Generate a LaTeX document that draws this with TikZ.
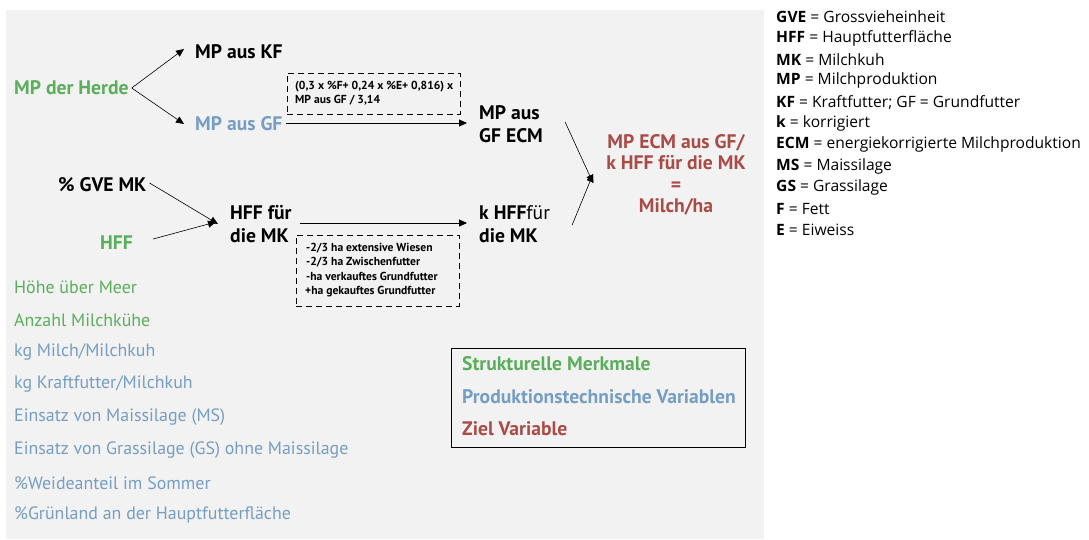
\documentclass[tikz,border=0pt]{standalone}
\usepackage{fontspec}
\setmainfont{PT Sans}
\newfontfamily\legfont{Open Sans}
\usetikzlibrary{arrows.meta}
\definecolor{bggray}{HTML}{F2F2F2}
\definecolor{cgreen}{HTML}{5BAE5C}
\definecolor{cblue}{HTML}{769DC4}
\definecolor{cred}{HTML}{A94B47}
\tikzset{
  x=1pt,y=-1pt,
  lbl/.style={inner sep=0pt,anchor=west,font=\fontsize{19.6}{22}\selectfont\bfseries},
  mlbl/.style={inner sep=0pt,anchor=west,align=left,font=\fontsize{19.6}{22.5}\selectfont\bfseries},
  lst/.style={inner sep=0pt,anchor=west,font=\fontsize{17.9}{20}\selectfont},
  leg/.style={inner sep=0pt,anchor=west,font=\legfont\fontsize{15.6}{17}\selectfont},
  arr/.style={-{Triangle[length=8pt,width=7pt]},line width=0.8pt},
  dbox/.style={draw,dashed,dash pattern=on 6pt off 4pt,line width=0.7pt,inner sep=0pt},
  small/.style={font=\fontsize{11.6}{14}\selectfont\bfseries,align=left,inner sep=0pt,anchor=west}
}
\begin{document}
\begin{tikzpicture}
\useasboundingbox (0,0) rectangle (1089,539);
\fill[bggray] (6,10) rectangle (764,539);

% left side
\node[lbl,text=cgreen] (herde) at (14,88) {MP der Herde};
\node[lbl] (kf) at (195,52) {MP aus KF};
\node[lbl,text=cblue] (gf) at (195,124) {MP aus GF};
\draw[arr,line width=0.6pt] ([xshift=3pt]herde.east) -- ([xshift=-11pt,yshift=3pt]kf.west);
\draw[arr,line width=0.6pt] ([xshift=3pt]herde.east) -- ([xshift=-11pt]gf.west);

% formula box
\node[dbox,minimum width=173pt,minimum height=41pt,anchor=north west] (fbox) at (287,73) {};
\node[small] (ftext) at (295,93.5) {(0,3 x \%F+ 0,24 x \%E+ 0,816) x\\MP aus GF / 3,14};

\node[mlbl] (ecm) at (479,124) {MP aus\\GF ECM};
\draw[arr] ([xshift=3pt,yshift=1pt]gf.east) -- ([xshift=-12pt,yshift=1pt]ecm.west);

% lower part
\node[lbl] (gve) at (58,185) {\% GVE MK};
\node[lbl,text=cgreen] (hff) at (100,243) {HFF};
\node[mlbl] (hffmk) at (230,224) {HFF für\\die MK};
\draw[arr,line width=0.6pt] ([xshift=3pt,yshift=2pt]gve.east) -- ([xshift=-12pt]hffmk.west);
\draw[arr,line width=0.6pt] ([xshift=20pt,yshift=4pt]hff.east) -- ([xshift=-14pt,yshift=2pt]hffmk.west);

\node[mlbl] (khff) at (479,224) {k HFF{\mdseries für}\\die MK};
\draw[arr] ([xshift=8pt,yshift=1pt]hffmk.east) -- ([xshift=-12pt,yshift=1pt]khff.west);

\node[dbox,minimum width=163pt,minimum height=71pt,anchor=north west] (hbox) at (296,235) {};
\node[small,font=\fontsize{11.6}{14.2}\selectfont\bfseries] (htext) at (305,270) {\hspace*{1pt}-2/3 ha extensive Wiesen\\\hspace*{1pt}-2/3 ha Zwischenfutter\\\hspace*{1pt}-ha verkauftes Grundfutter\\+ha gekauftes Grundfutter};

% target
\node[inner sep=0pt,align=center,text=cred,font=\fontsize{19.6}{21.5}\selectfont\bfseries] (target) at (676,175) {MP ECM aus GF/\\k HFF für die MK\\=\\Milch/ha};
\draw[arr,line width=0.6pt] ([xshift=22pt,yshift=2pt]ecm.east) -- ([xshift=-13pt,yshift=-8pt]target.west);
\draw[arr,line width=0.6pt] ([xshift=22pt,yshift=-1pt]khff.east) -- ([xshift=-13pt,yshift=1pt]target.west);

% list
\node[lst,text=cgreen] (l1) at (14,287) {Höhe über Meer};
\node[lst,text=cgreen] (l2) at (14,320) {Anzahl Milchkühe};
\node[lst,text=cblue] (l3) at (14,352) {kg Milch/Milchkuh};
\node[lst,text=cblue] (l4) at (14,384) {kg Kraftfutter/Milchkuh};
\node[lst,text=cblue] (l5) at (14,417) {Einsatz von Maissilage (MS)};
\node[lst,text=cblue] (l6) at (14,450) {Einsatz von Grassilage (GS) ohne Maissilage};
\node[lst,text=cblue] (l7) at (14,483) {\%Weideanteil im Sommer};
\node[lst,text=cblue] (l8) at (14,515) {\%Grünland an der Hauptfutterfläche};

% legend box
\node[draw,line width=0.8pt,minimum width=294pt,minimum height=99pt,anchor=north west,inner sep=0pt] (legbox) at (451,348) {};
\node[lbl,text=cgreen] (s1) at (462,364) {Strukturelle Merkmale};
\node[lbl,text=cblue] (s2) at (462,397) {Produktionstechnische Variablen};
\node[lbl,text=cred] (s3) at (462,429) {Ziel Variable};

% abbreviations
\node[leg] (a1) at (776,17) {\textbf{GVE} = Grossvieheinheit};
\node[leg] (a2) at (776,38.3) {\textbf{HFF} = Hauptfutterfläche};
\node[leg] (a3) at (776,59.6) {\textbf{MK} = Milchkuh};
\node[leg] (a4) at (776,80.9) {\textbf{MP} = Milchproduktion};
\node[leg] (a5) at (776,102.2) {\textbf{KF} = Kraftfutter; GF = Grundfutter};
\node[leg] (a6) at (776,123.5) {\textbf{k} = korrigiert};
\node[leg] (a7) at (776,144.8) {\textbf{ECM} = energiekorrigierte Milchproduktion};
\node[leg] (a8) at (776,166.1) {\textbf{MS} = Maissilage};
\node[leg] (a9) at (776,187.4) {\textbf{GS} = Grassilage};
\node[leg] (a10) at (776,208.7) {\textbf{F} = Fett};
\node[leg] (a11) at (776,230) {\textbf{E} = Eiweiss};
\end{tikzpicture}
\end{document}
